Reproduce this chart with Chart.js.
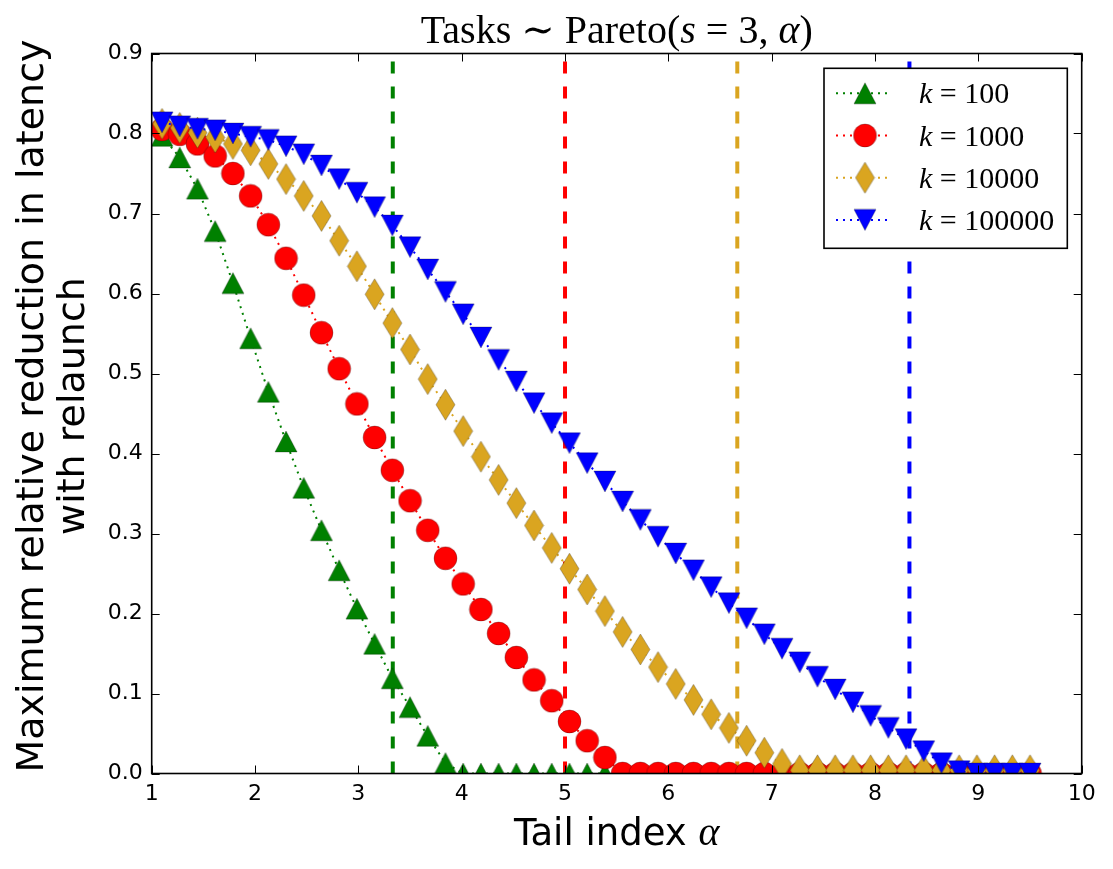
<!DOCTYPE html>
<html>
<head>
<meta charset="utf-8">
<title>Relaunch latency reduction vs tail index</title>
<script src="https://cdn.jsdelivr.net/npm/chart.js@4.4.1/dist/chart.umd.min.js"></script>
<style>
    html, body { margin: 0; padding: 0; background: #fff; }
    #chart { display: block; }
</style>
</head>
<body>
<canvas id="chart" width="1113" height="869"></canvas>
<script>
// Tail index values shared by every series
const alphas = [
    1.100, 1.271, 1.443, 1.614, 1.786, 1.957, 2.129, 2.300, 2.471, 2.643,
    2.814, 2.986, 3.157, 3.329, 3.500, 3.671, 3.843, 4.014, 4.186, 4.357,
    4.529, 4.700, 4.871, 5.043, 5.214, 5.386, 5.557, 5.729, 5.900, 6.071,
    6.243, 6.414, 6.586, 6.757, 6.929, 7.100, 7.271, 7.443, 7.614, 7.786,
    7.957, 8.129, 8.300, 8.471, 8.643, 8.814, 8.986, 9.157, 9.329, 9.500
];

// Max relative reduction in latency, one list per k
const reductionK100 = [
    0.797, 0.770, 0.731, 0.678, 0.613, 0.544, 0.477, 0.415, 0.357, 0.304,
    0.254, 0.206, 0.162, 0.119, 0.083, 0.047, 0.013, 0, 0, 0,
    0, 0, 0, 0, 0, 0, 0, 0, 0, 0,
    0, 0, 0, 0, 0, 0, 0, 0, 0, 0,
    0, 0, 0, 0, 0, 0, 0, 0, 0, 0
];
const reductionK1000 = [
    0.805, 0.799, 0.787, 0.772, 0.750, 0.722, 0.686, 0.644, 0.598, 0.551,
    0.506, 0.462, 0.420, 0.379, 0.341, 0.304, 0.269, 0.237, 0.205, 0.175,
    0.145, 0.117, 0.091, 0.065, 0.041, 0.020, 0, 0, 0, 0,
    0, 0, 0, 0, 0, 0, 0, 0, 0, 0,
    0, 0, 0, 0, 0, 0, 0, 0, 0, 0
];
const reductionK10000 = [
    0.812, 0.807, 0.801, 0.795, 0.787, 0.779, 0.762, 0.743, 0.722, 0.697,
    0.666, 0.634, 0.599, 0.563, 0.530, 0.493, 0.461, 0.428, 0.396, 0.367,
    0.338, 0.310, 0.282, 0.256, 0.230, 0.203, 0.177, 0.155, 0.133, 0.112,
    0.092, 0.074, 0.057, 0.041, 0.026, 0.012, 0.004, 0.004, 0.004, 0.004,
    0.004, 0.004, 0.004, 0.004, 0.004, 0.004, 0.004, 0.004, 0.004, 0.004
];
const reductionK100000 = [
    0.814, 0.809, 0.806, 0.804, 0.800, 0.796, 0.792, 0.784, 0.774, 0.760,
    0.743, 0.726, 0.708, 0.685, 0.658, 0.630, 0.602, 0.574, 0.545, 0.517,
    0.490, 0.463, 0.438, 0.413, 0.388, 0.365, 0.340, 0.317, 0.296, 0.275,
    0.254, 0.233, 0.213, 0.194, 0.174, 0.156, 0.139, 0.121, 0.105, 0.089,
    0.072, 0.057, 0.043, 0.028, 0.013, 0.003, 0, 0, 0, 0
];

// Vertical dashed markers, one per k
const relaunchAlpha = [3.333, 5, 6.667, 8.333];

const kLabels = ['100', '1000', '10000', '100000'];
const seriesColors = ['#008000', '#ff0000', '#daa520', '#0000ff'];
const markerShapes = ['triangleUp', 'circle', 'diamond', 'triangleDown'];

const xTickValues = [1, 2, 3, 4, 5, 6, 7, 8, 9, 10];
const yTickValues = [0, 0.1, 0.2, 0.3, 0.4, 0.5, 0.6, 0.7, 0.8, 0.9];
const yTitleLines = ['Maximum relative reduction in latency', 'with relaunch'];

const SERIF = '"Liberation Serif", "DejaVu Serif", serif';
const SANS = '"DejaVu Sans", sans-serif';

// Build a matplotlib-like marker as a small canvas (centred on its bounding box)
function makeMarker(shape, color) {
    const c = document.createElement('canvas');
    let w = 24, h = 23;
    if (shape === 'circle') { w = 25; h = 25; }
    if (shape === 'diamond') { w = 21; h = 33; }
    c.width = w;
    c.height = h;
    const g = c.getContext('2d');
    const cx = w / 2, cy = h / 2;
    g.beginPath();
    if (shape === 'circle') {
        g.arc(cx, cy, 11.5, 0, Math.PI * 2);
    } else if (shape === 'diamond') {
        g.moveTo(cx, cy - 15.5);
        g.lineTo(cx + 9.5, cy);
        g.lineTo(cx, cy + 15.5);
        g.lineTo(cx - 9.5, cy);
    } else if (shape === 'triangleUp') {
        g.moveTo(cx, cy - 10.5);
        g.lineTo(cx + 11, cy + 10.5);
        g.lineTo(cx - 11, cy + 10.5);
    } else {
        g.moveTo(cx, cy + 10.5);
        g.lineTo(cx + 11, cy - 10.5);
        g.lineTo(cx - 11, cy - 10.5);
    }
    g.closePath();
    g.fillStyle = color;
    g.fill();
    g.strokeStyle = 'rgba(0, 0, 0, 0.45)';
    g.lineWidth = 0.6;
    g.stroke();
    return c;
}

const markers = markerShapes.map((s, i) => makeMarker(s, seriesColors[i]));

// Draw one line of text made of pieces with their own font
function drawRuns(ctx, runs, x, y, align) {
    const widths = runs.map(r => {
        ctx.font = r[1];
        return ctx.measureText(r[0]).width;
    });
    const total = widths.reduce((s, w) => s + w, 0);
    let cx = align === 'center' ? x - total / 2 : x;
    ctx.textAlign = 'left';
    ctx.textBaseline = 'alphabetic';
    ctx.fillStyle = '#000';
    runs.forEach((r, i) => {
        ctx.font = r[1];
        ctx.fillText(r[0], cx, y);
        cx += widths[i];
    });
}

// Inward ticks on all sides, axes frame, legend box, title and axis labels
const decorations = {
    id: 'decorations',
    afterDatasetsDraw(chart) {
        const { ctx, chartArea: a, scales } = chart;
        const xs = scales.x, ys = scales.y;
        ctx.save();

        ctx.strokeStyle = '#000';
        ctx.lineWidth = 1;
        ctx.setLineDash([]);
        ctx.beginPath();
        xTickValues.forEach(v => {
            const px = Math.round(xs.getPixelForValue(v)) + 0.5;
            ctx.moveTo(px, a.bottom);
            ctx.lineTo(px, a.bottom - 8);
            ctx.moveTo(px, a.top);
            ctx.lineTo(px, a.top + 8);
        });
        yTickValues.forEach(v => {
            const py = Math.round(ys.getPixelForValue(v)) + 0.5;
            ctx.moveTo(a.left, py);
            ctx.lineTo(a.left + 8, py);
            ctx.moveTo(a.right, py);
            ctx.lineTo(a.right - 8, py);
        });
        ctx.stroke();

        ctx.lineWidth = 1.6;
        ctx.strokeRect(a.left, a.top, a.right - a.left, a.bottom - a.top);

        // Legend in the upper right corner
        const boxRight = a.right - 14.4;
        const boxTop = a.top + 14.8;
        const boxW = 243.3, boxH = 180;
        const boxLeft = boxRight - boxW;
        ctx.fillStyle = '#fff';
        ctx.fillRect(boxLeft, boxTop, boxW, boxH);
        ctx.strokeStyle = '#000';
        ctx.lineWidth = 1.6;
        ctx.strokeRect(boxLeft, boxTop, boxW, boxH);

        kLabels.forEach((k, i) => {
            const rowY = boxTop + 25 + i * 42.2;
            ctx.strokeStyle = seriesColors[i];
            ctx.lineWidth = 2;
            ctx.setLineDash([2, 5]);
            ctx.beginPath();
            ctx.moveTo(boxLeft + 12, rowY);
            ctx.lineTo(boxLeft + 64, rowY);
            ctx.stroke();
            ctx.setLineDash([]);
            const m = markers[i];
            ctx.drawImage(m, boxLeft + 41 - m.width / 2, rowY - m.height / 2);
            drawRuns(ctx, [['k', 'italic 30px ' + SERIF], [' = ' + k, '30px ' + SERIF]],
                boxLeft + 95, rowY + 10, 'left');
        });

        // Title
        drawRuns(ctx, [
            ['Tasks ∼ Pareto(', '40px ' + SERIF],
            ['s', 'italic 40px ' + SERIF],
            [' = 3, ', '40px ' + SERIF],
            ['α', 'italic 40px ' + SERIF],
            [')', '40px ' + SERIF]
        ], (a.left + a.right) / 2, 43, 'center');

        // x axis label
        drawRuns(ctx, [['Tail index ', '37px ' + SANS], ['α', 'italic 40px ' + SERIF]],
            (a.left + a.right) / 2, 845, 'center');

        // y axis label, two rotated lines
        ctx.fillStyle = '#000';
        ctx.font = '38px ' + SANS;
        ctx.textAlign = 'center';
        ctx.textBaseline = 'alphabetic';
        yTitleLines.forEach((line, i) => {
            ctx.save();
            ctx.translate(43.3 + i * 40.5, 406);
            ctx.rotate(-Math.PI / 2);
            ctx.fillText(line, 0, 0);
            ctx.restore();
        });

        ctx.restore();
    }
};

document.addEventListener('DOMContentLoaded', function() {
    if (typeof Chart === 'undefined') {
        console.error('Chart.js not loaded');
        return;
    }

    const seriesData = [reductionK100, reductionK1000, reductionK10000, reductionK100000];

    const curveSets = seriesData.map((vals, i) => ({
        label: 'k = ' + kLabels[i],
        data: alphas.map((a, j) => ({ x: a, y: vals[j] })),
        borderColor: seriesColors[i],
        backgroundColor: seriesColors[i],
        borderWidth: 2,
        borderDash: [2, 5],
        pointStyle: markers[i],
        pointRadius: 11,
        tension: 0,
        order: 4 - i
    }));

    const dashedSets = relaunchAlpha.map((a, i) => ({
        label: 'relaunch ' + kLabels[i],
        data: [{ x: a, y: 0 }, { x: a, y: 0.9 }],
        borderColor: seriesColors[i],
        borderWidth: 4,
        borderDash: [12, 13],
        pointRadius: 0,
        order: 10
    }));

    new Chart(document.getElementById('chart'), {
        type: 'line',
        data: { datasets: curveSets.concat(dashedSets) },
        options: {
            responsive: false,
            animation: false,
            events: [],
            layout: { padding: { top: 53.5, right: 31.3, left: 0, bottom: 0 } },
            plugins: {
                legend: { display: false },
                tooltip: { enabled: false },
                title: { display: false }
            },
            scales: {
                x: {
                    type: 'linear',
                    min: 1,
                    max: 10,
                    afterBuildTicks: axis => { axis.ticks = xTickValues.map(v => ({ value: v })); },
                    afterFit: axis => { axis.height = 95.5; },
                    grid: { display: false, drawTicks: false },
                    border: { display: false },
                    ticks: {
                        color: '#000',
                        padding: 8,
                        maxRotation: 0,
                        font: { family: 'DejaVu Sans', size: 22 },
                        callback: v => String(v)
                    }
                },
                y: {
                    type: 'linear',
                    min: 0,
                    max: 0.9,
                    afterBuildTicks: axis => { axis.ticks = yTickValues.map(v => ({ value: v })); },
                    afterFit: axis => { axis.width = 151.7; },
                    grid: { display: false, drawTicks: false },
                    border: { display: false },
                    ticks: {
                        color: '#000',
                        padding: 9,
                        font: { family: 'DejaVu Sans', size: 22 },
                        callback: v => v.toFixed(1)
                    }
                }
            }
        },
        plugins: [decorations]
    });
});
</script>
</body>
</html>
